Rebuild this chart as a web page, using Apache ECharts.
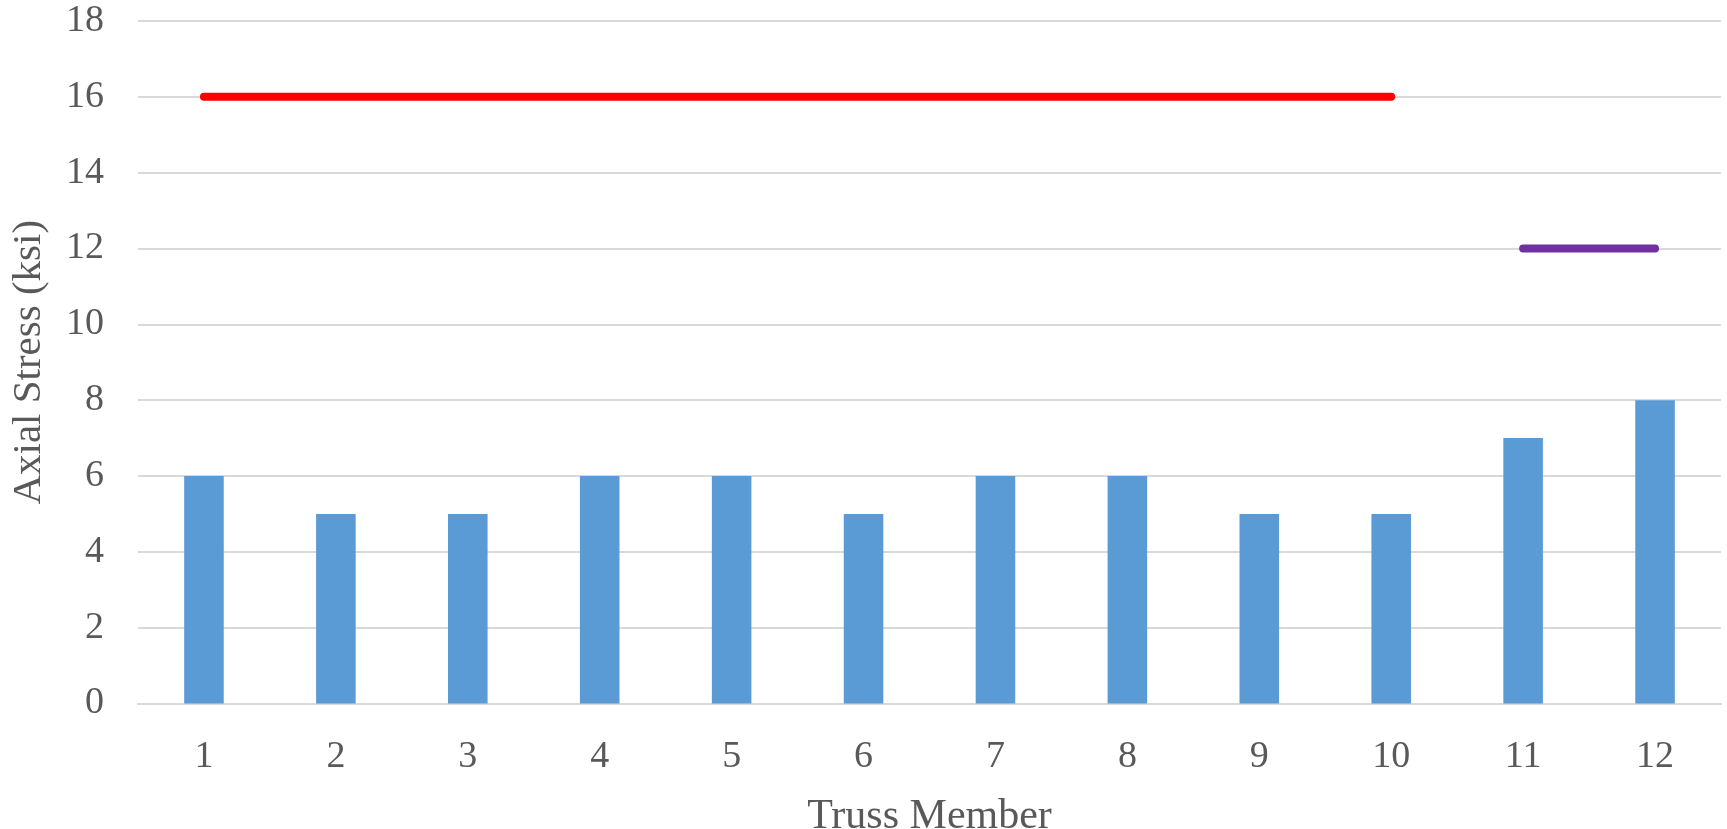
<!DOCTYPE html>
<html>
<head>
<meta charset="utf-8">
<script src="https://cdn.jsdelivr.net/npm/echarts@6/dist/echarts.min.js"></script>
<style>
  html, body { margin: 0; padding: 0; background: #fff; }
  #chart { width: 1727px; height: 829px; }
</style>
</head>
<body>
<div id="chart"></div>
<script>
// Truss members and the axial stress carried by each one (ksi)
const members = ['1', '2', '3', '4', '5', '6', '7', '8', '9', '10', '11', '12'];
const axialStress = [6, 5, 5, 6, 6, 5, 6, 6, 5, 5, 7, 8];
// Allowable stress limits: members 1-10 and members 11-12
const limitA = [16, 16, 16, 16, 16, 16, 16, 16, 16, 16, null, null];
const limitB = [null, null, null, null, null, null, null, null, null, null, 12, 12];
const yTicks = { min: 0, max: 18, interval: 2 };

const textColor = '#595959';
const fontFamily = '"Liberation Serif", "Times New Roman", serif';

const chart = echarts.init(document.getElementById('chart'));
chart.setOption({
  animation: false,
  backgroundColor: '#ffffff',
  grid: {
    left: 138, right: 6, top: 21, bottom: 125.5,
    containLabel: false,
    outerBoundsMode: 'none'
  },
  xAxis: {
    type: 'category',
    data: members,
    name: 'Truss Member',
    nameLocation: 'middle',
    nameGap: 92,
    nameTextStyle: { color: textColor, fontFamily, fontSize: 42 },
    axisLine: { show: true, lineStyle: { color: '#d9d9d9', width: 2 } },
    axisTick: { show: false },
    axisLabel: { color: textColor, fontFamily, fontSize: 38, margin: 35 }
  },
  yAxis: {
    type: 'value',
    min: yTicks.min,
    max: yTicks.max,
    interval: yTicks.interval,
    name: 'Axial Stress (ksi)',
    nameLocation: 'middle',
    nameGap: 88,
    nameTextStyle: { color: textColor, fontFamily, fontSize: 41 },
    axisLine: { show: false },
    axisTick: { show: false },
    axisLabel: { color: textColor, fontFamily, fontSize: 38, margin: 34 },
    splitLine: { lineStyle: { color: '#d9d9d9', width: 2 } }
  },
  series: [
    {
      type: 'bar',
      data: axialStress,
      barWidth: '30%',
      itemStyle: { color: '#5b9bd5' }
    },
    {
      type: 'line',
      data: limitA,
      showSymbol: false,
      connectNulls: false,
      lineStyle: { color: '#ff0000', width: 8, cap: 'round' },
      z: 3
    },
    {
      type: 'line',
      data: limitB,
      showSymbol: false,
      connectNulls: false,
      lineStyle: { color: '#7030a0', width: 8, cap: 'round' },
      z: 3
    }
  ]
});
</script>
</body>
</html>
